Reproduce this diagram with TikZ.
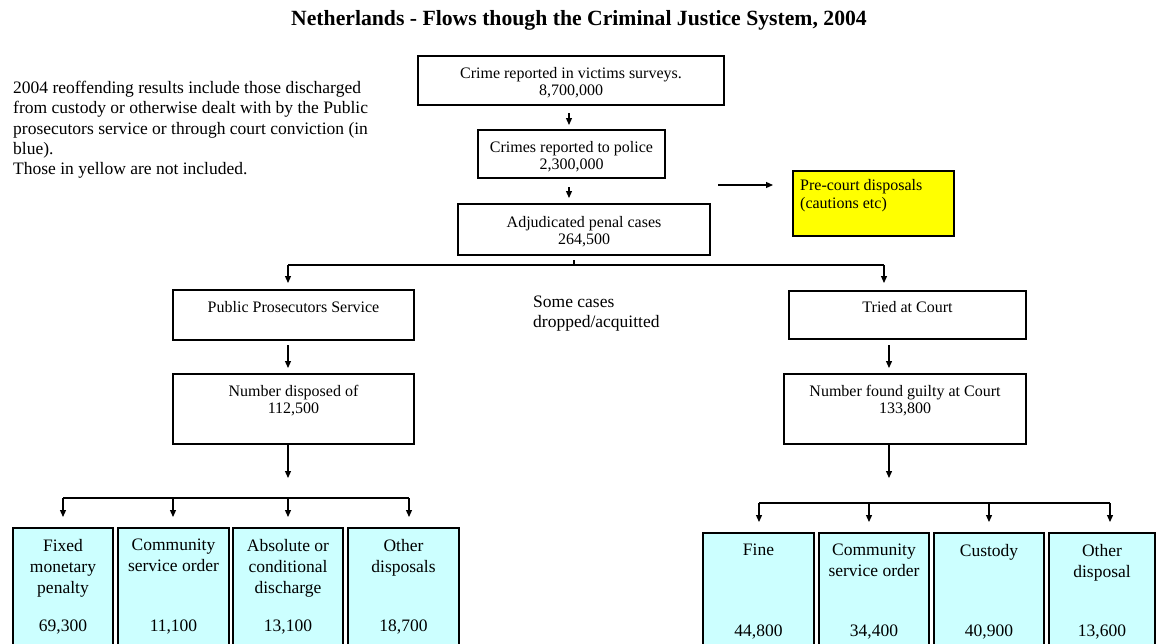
\documentclass[tikz,border=0pt]{standalone}
\usepackage{fontspec}
\setmainfont{Liberation Serif}
\usetikzlibrary{arrows.meta}
\definecolor{cyanfill}{HTML}{CCFFFF}
\definecolor{yelfill}{HTML}{FFFF00}
\begin{document}
\begin{tikzpicture}[x=1pt,y=-1pt,
  box/.style={draw=black, line width=1.2pt, inner sep=0pt, outer sep=0pt},
  lbl/.style={font=\fontsize{16}{17}\selectfont, align=center, inner sep=0pt, anchor=north},
  blbl/.style={font=\fontsize{17.5}{21}\selectfont, align=center, inner sep=0pt, anchor=north},
  num/.style={font=\fontsize{17.5}{21}\selectfont, inner sep=0pt},
  arr/.style={line width=1.2pt, -{Triangle[length=7pt,width=6pt]}},
  ln/.style={line width=1.2pt}]
\useasboundingbox (0,0) rectangle (1159,643);
\clip (0,0) rectangle (1159,643);

% title
\node[font=\bfseries\fontsize{21.7}{24}\selectfont, inner sep=0pt] (title) at (579,20)
  {Netherlands - Flows though the Criminal Justice System, 2004};

% note
\node[anchor=north west, align=left, inner sep=0pt, font=\fontsize{17.5}{20.3}\selectfont] (note) at (13,81)
  {2004 reoffending results include those discharged\\
   from custody or otherwise dealt with by the Public\\
   prosecutors service or through court conviction (in\\
   blue).\\
   Those in yellow are not included.};

% top chain
\node[box, minimum width=306pt, minimum height=49pt] (b1) at (571,80.5) {};
\node[lbl] (t1) at ([yshift=-11pt]b1.north) {Crime reported in victims surveys.\\8,700,000};
\node[box, minimum width=187pt, minimum height=48pt] (b2) at (571.5,154) {};
\node[lbl] (t2) at ([yshift=-11pt]b2.north) {Crimes reported to police\\2,300,000};
\node[box, minimum width=252pt, minimum height=51pt] (b3) at (584,229.5) {};
\node[lbl] (t3) at ([yshift=-12pt]b3.north) {Adjudicated penal cases\\264,500};

\coordinate (mx) at (569,100);
\draw[arr, shorten <=8pt, shorten >=5pt] (mx |- b1.south) -- (mx |- b2.north);
\draw[arr, shorten <=9pt, shorten >=6pt] (mx |- b2.south) -- (mx |- b3.north);

% pre-court
\node[box, fill=yelfill, minimum width=161pt, minimum height=65pt] (yel) at (873.5,203.5) {};
\node[anchor=north west, align=left, inner sep=0pt, font=\fontsize{16}{18}\selectfont] (ytxt) at (800,179.5)
  {Pre-court disposals\\(cautions etc)};
\coordinate (ya) at (718,185);
\draw[arr, shorten >=20pt] (ya) -- (ya -| yel.west);

% split
\coordinate (s) at (574,265);
\coordinate (sl) at (288,265);
\coordinate (sr) at (884,265);
\draw[ln] ([xshift=-10pt,yshift=-5pt]b3.south) -- (s);
\draw[ln] (sl) -- (sr);

\node[anchor=north west, align=left, inner sep=0pt, font=\fontsize{17.5}{20}\selectfont] (drop) at (533,296)
  {Some cases\\dropped/acquitted};

% left branch
\node[box, minimum width=241pt, minimum height=50pt] (pps) at (293.5,315) {};
\node[lbl] (tpps) at ([yshift=-11pt]pps.north) {Public Prosecutors Service};
\node[box, minimum width=241pt, minimum height=70pt] (disp) at (293.5,409) {};
\node[lbl] (tdisp) at ([yshift=-11pt]disp.north) {Number disposed of\\112,500};
\draw[arr, shorten >=7pt] (sl) -- (sl |- pps.north);
\draw[arr, shorten <=5pt, shorten >=6pt] (sl |- pps.south) -- (sl |- disp.north);

% right branch
\node[box, minimum width=237pt, minimum height=48pt] (tried) at (907.5,315) {};
\node[lbl] (ttried) at ([yshift=-10pt]tried.north) {Tried at Court};
\node[box, minimum width=242pt, minimum height=70pt] (guilty) at (905,409) {};
\node[lbl] (tguilty) at ([yshift=-11pt]guilty.north) {Number found guilty at Court\\133,800};
\coordinate (rx) at (889,300);
\draw[arr, shorten >=8pt] (sr) -- (sr |- tried.north);
\draw[arr, shorten <=6pt, shorten >=6pt] (rx |- tried.south) -- (rx |- guilty.north);

% left bottom
\coordinate (jl) at (288,498);
\draw[arr, shorten >=20pt] (jl |- disp.south) -- (jl);
\coordinate (l1) at (63,498);
\coordinate (l2) at (173,498);
\coordinate (l3) at (288,498);
\coordinate (l4) at (409,498);
\draw[ln] (l1) -- (l4);

\node[box, fill=cyanfill, minimum width=100pt, minimum height=122pt] (bl1) at (63,589) {};
\node[box, fill=cyanfill, minimum width=111pt, minimum height=122pt] (bl2) at (173.5,589) {};
\node[box, fill=cyanfill, minimum width=110pt, minimum height=122pt] (bl3) at (288,589) {};
\node[box, fill=cyanfill, minimum width=111pt, minimum height=122pt] (bl4) at (403.5,589) {};
\draw[arr, shorten >=11pt] (l1) -- (l1 |- bl1.north);
\draw[arr, shorten >=11pt] (l2) -- (l2 |- bl2.north);
\draw[arr, shorten >=11pt] (l3) -- (l3 |- bl3.north);
\draw[arr, shorten >=11pt] (l4) -- (l4 |- bl4.north);
\node[blbl] (tbl1) at ([yshift=-11pt]bl1.north) {Fixed\\monetary\\penalty};
\node[blbl] (tbl2) at ([yshift=-11pt]bl2.north) {Community\\service order};
\node[blbl] (tbl3) at ([yshift=-11pt]bl3.north) {Absolute or\\conditional\\discharge};
\node[blbl] (tbl4) at ([yshift=-11pt]bl4.north) {Other\\disposals};
\node[num] (nbl1) at (bl1 |- 0,627) {69,300};
\node[num] (nbl2) at (bl2 |- 0,627) {11,100};
\node[num] (nbl3) at (bl3 |- 0,627) {13,100};
\node[num] (nbl4) at (bl4 |- 0,627) {18,700};

% right bottom
\coordinate (jr) at (889,503);
\draw[arr, shorten >=25pt] (jr |- guilty.south) -- (jr);
\coordinate (r1) at (759,503);
\coordinate (r2) at (869,503);
\coordinate (r3) at (989,503);
\coordinate (r4) at (1110,503);
\draw[ln] (r1) -- (r4);

\node[box, fill=cyanfill, minimum width=111pt, minimum height=117pt] (br1) at (758.5,591.5) {};
\node[box, fill=cyanfill, minimum width=110pt, minimum height=117pt] (br2) at (874,591.5) {};
\node[box, fill=cyanfill, minimum width=110pt, minimum height=117pt] (br3) at (989,591.5) {};
\node[box, fill=cyanfill, minimum width=106pt, minimum height=117pt] (br4) at (1102,591.5) {};
\draw[arr, shorten >=11pt] (r1) -- (r1 |- br1.north);
\draw[arr, shorten >=11pt] (r2) -- (r2 |- br2.north);
\draw[arr, shorten >=11pt] (r3) -- (r3 |- br3.north);
\draw[arr, shorten >=11pt] (r4) -- (r4 |- br4.north);
\node[blbl] (tbr1) at ([yshift=-11pt]br1.north) {Fine};
\node[blbl] (tbr2) at ([yshift=-11pt]br2.north) {Community\\service order};
\node[blbl] (tbr3) at ([yshift=-11pt]br3.north) {Custody};
\node[blbl] (tbr4) at ([yshift=-11pt]br4.north) {Other\\disposal};
\node[num] (nbr1) at (br1 |- 0,632) {44,800};
\node[num] (nbr2) at (br2 |- 0,632) {34,400};
\node[num] (nbr3) at (br3 |- 0,632) {40,900};
\node[num] (nbr4) at (br4 |- 0,632) {13,600};
\end{tikzpicture}
\end{document}
